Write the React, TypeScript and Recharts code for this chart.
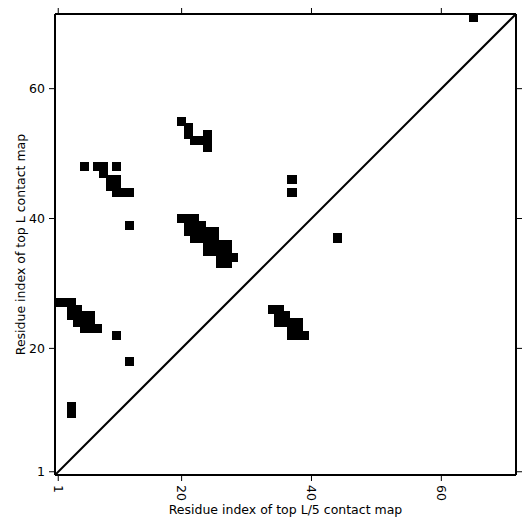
import React from 'react';
import { ScatterChart, XAxis, YAxis, ZAxis, ReferenceLine, Scatter } from 'recharts';

// Residue indices (x = top L/5 map, y = top L map) of contact cells
const clusterAX = [20, 21, 21, 22, 23, 24, 24, 24];
const clusterAY = [55, 54, 53, 52, 52, 53, 52, 51];

const clusterBX = [5, 7, 8, 10, 8, 9, 10, 9, 10, 10, 11, 12];
const clusterBY = [48, 48, 48, 48, 47, 46, 46, 45, 45, 44, 44, 44];

const isolatedX = [12, 37, 37, 44, 65, 10, 12, 3, 3];
const isolatedY = [39, 46, 44, 37, 71, 22, 18, 11, 10];

const clusterCX = [20, 21, 22, 21, 22, 23, 21, 22, 23, 24, 25, 22, 23, 24, 25, 24, 25, 26, 27, 24, 25, 26, 27, 26, 27, 28, 26, 27];
const clusterCY = [40, 40, 40, 39, 39, 39, 38, 38, 38, 38, 38, 37, 37, 37, 37, 36, 36, 36, 36, 35, 35, 35, 35, 34, 34, 34, 33, 33];

const clusterDX = [1, 2, 3, 3, 4, 3, 4, 5, 6, 4, 5, 6, 5, 6, 7];
const clusterDY = [27, 27, 27, 26, 26, 25, 25, 25, 25, 24, 24, 24, 23, 23, 23];

const clusterEX = [34, 35, 35, 36, 35, 36, 37, 38, 37, 38, 37, 38, 39];
const clusterEY = [26, 26, 25, 25, 24, 24, 24, 24, 23, 23, 22, 22, 22];

const axisTicks = [1, 20, 40, 60];
const domainMin = 0.5;
const domainMax = 71.5;

const xTitle = 'Residue index of top L/5 contact map';
const yTitle = 'Residue index of top L contact map';

const allX = [...clusterAX, ...clusterBX, ...isolatedX, ...clusterCX, ...clusterDX, ...clusterEX];
const allY = [...clusterAY, ...clusterBY, ...isolatedY, ...clusterCY, ...clusterDY, ...clusterEY];
const cells = allX.map((x, i) => ({ x, y: allY[i] }));

// marker area so that each square marker is about one residue wide
const MARKER_AREA = 34;

const FONT = '"DejaVu Sans", sans-serif';
const FS = 12.5;

const CellShape = (props: any) => {
  const { cx, cy, width } = props;
  const w = width;
  return <rect x={cx - w / 2} y={cy - w / 2} width={w} height={w} fill="#000" shapeRendering="crispEdges" />;
};

const XTick = (props: any) => {
  const { x, y, payload } = props;
  return (
    <text
      x={x}
      y={y}
      transform={`rotate(90 ${x} ${y})`}
      textAnchor="start"
      dominantBaseline="central"
      fontFamily={FONT}
      fontSize={FS}
      fill="#000"
    >
      {payload.value}
    </text>
  );
};

const XLabel = (props: any) => {
  const { viewBox } = props;
  const cx = viewBox.x + viewBox.width / 2;
  const cy = viewBox.y + viewBox.height - 17;
  return (
    <text x={cx} y={cy} textAnchor="middle" fontFamily={FONT} fontSize={FS} fill="#000">
      {xTitle}
    </text>
  );
};

const YLabel = (props: any) => {
  const { viewBox } = props;
  const cx = viewBox.x + 12;
  const cy = viewBox.y + viewBox.height / 2;
  return (
    <text
      x={cx}
      y={cy}
      transform={`rotate(-90 ${cx} ${cy})`}
      textAnchor="middle"
      dominantBaseline="central"
      fontFamily={FONT}
      fontSize={FS}
      fill="#000"
    >
      {yTitle}
    </text>
  );
};

export default function App() {
  return (
    <ScatterChart width={523} height={523} margin={{ top: 0, right: 0, bottom: 0, left: 0 }}>
      <XAxis
        xAxisId="b"
        type="number"
        dataKey="x"
        domain={[domainMin, domainMax]}
        ticks={axisTicks}
        allowDataOverflow
        height={56}
        orientation="bottom"
        axisLine={{ stroke: '#000', strokeWidth: 2 }}
        tickLine={{ stroke: '#000', strokeWidth: 1 }}
        tickSize={6}
        tickMargin={4}
        tick={<XTick />}
        label={<XLabel />}
      />
      <XAxis
        xAxisId="t"
        type="number"
        dataKey="x"
        domain={[domainMin, domainMax]}
        ticks={axisTicks}
        allowDataOverflow
        height={6}
        orientation="top"
        axisLine={{ stroke: '#000', strokeWidth: 2 }}
        tickLine={{ stroke: '#000', strokeWidth: 1 }}
        tickSize={6}
        tickFormatter={() => ''}
      />
      <YAxis
        yAxisId="l"
        type="number"
        dataKey="y"
        domain={[domainMin, domainMax]}
        ticks={axisTicks}
        allowDataOverflow
        width={47}
        orientation="left"
        axisLine={{ stroke: '#000', strokeWidth: 2 }}
        tickLine={{ stroke: '#000', strokeWidth: 1 }}
        tickSize={6}
        tickMargin={4}
        tick={{ fill: '#000', fontFamily: FONT, fontSize: FS }}
        label={<YLabel />}
      />
      <YAxis
        yAxisId="r"
        type="number"
        dataKey="y"
        domain={[domainMin, domainMax]}
        ticks={axisTicks}
        allowDataOverflow
        width={15}
        orientation="right"
        axisLine={{ stroke: '#000', strokeWidth: 2 }}
        tickLine={{ stroke: '#000', strokeWidth: 1 }}
        tickSize={6}
        tickFormatter={() => ''}
      />
      <ZAxis range={[MARKER_AREA, MARKER_AREA]} />
      <ReferenceLine
        xAxisId="b"
        yAxisId="l"
        segment={[{ x: domainMin, y: domainMin }, { x: domainMax, y: domainMax }]}
        stroke="#000"
        strokeWidth={2}
        ifOverflow="visible"
      />
      <Scatter xAxisId="b" yAxisId="l" data={cells} shape={<CellShape />} isAnimationActive={false} />
    </ScatterChart>
  );
}
